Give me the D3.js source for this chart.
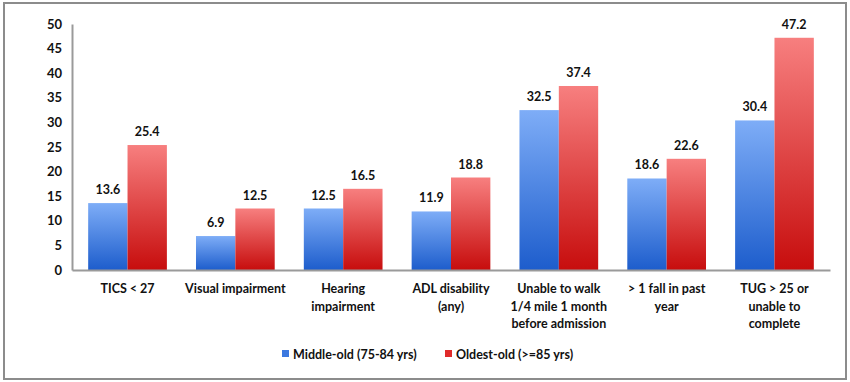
<!DOCTYPE html>
<html>
<head>
<meta charset="utf-8">
<script src="https://cdn.jsdelivr.net/npm/d3@7"></script>
<style>
  html, body { margin: 0; padding: 0; background: #fff; }
  svg { display: block; }
</style>
</head>
<body>
<svg id="chart" width="850" height="382"></svg>
<script>
const categories = [
  ["TICS < 27"],
  ["Visual impairment"],
  ["Hearing", "impairment"],
  ["ADL disability", "(any)"],
  ["Unable to walk", "1/4 mile 1 month", "before admission"],
  ["> 1 fall in past", "year"],
  ["TUG > 25 or", "unable to", "complete"]
];
const seriesNames = ["Middle-old (75-84 yrs)", "Oldest-old (>=85 yrs)"];
const middleOld = [13.6, 6.9, 12.5, 11.9, 32.5, 18.6, 30.4];
const oldestOld = [25.4, 12.5, 16.5, 18.8, 37.4, 22.6, 47.2];
const yTicks = [0, 5, 10, 15, 20, 25, 30, 35, 40, 45, 50];

const svg = d3.select("#chart");
const font = "Lato, 'Open Sans', sans-serif";

// outer frame
svg.append("rect").attr("x", 4).attr("y", 3).attr("width", 842).attr("height", 376)
  .attr("fill", "#fff").attr("stroke", "#8c8c8c").attr("stroke-width", 2);

const defs = svg.append("defs");
function grad(id, top, bottom) {
  const g = defs.append("linearGradient").attr("id", id)
    .attr("x1", 0).attr("y1", 0).attr("x2", 0).attr("y2", 1);
  g.append("stop").attr("offset", "0%").attr("stop-color", top);
  g.append("stop").attr("offset", "100%").attr("stop-color", bottom);
}
grad("gBlue", "#7eadf7", "#1d5dcc");
grad("gRed", "#f77f7f", "#c70d0d");
const fills = ["url(#gBlue)", "url(#gRed)"];
const solid = ["#3b78e0", "#e02a2a"];

const x0 = d3.scaleBand().domain(d3.range(categories.length))
  .range([72, 830]).paddingInner(0.27).paddingOuter(0.15);
const x1 = d3.scaleBand().domain([0, 1]).range([0, x0.bandwidth()]);
const y = d3.scaleLinear().domain([0, 50]).range([270, 24]);

// y axis
const yAxis = svg.append("g").attr("transform", "translate(72,0)")
  .call(d3.axisLeft(y).tickValues(yTicks).tickSize(0).tickPadding(10));
yAxis.select(".domain").attr("stroke", "#9a9a9a").attr("stroke-width", 2);
yAxis.selectAll("text").attr("font-family", font).attr("font-size", 13)
  .attr("font-weight", "bold").attr("fill", "#111");

const series = [middleOld, oldestOld];
const groups = svg.append("g");
categories.forEach((c, i) => {
  series.forEach((s, k) => {
    const bx = x0(i) + x1(k);
    groups.append("rect")
      .attr("x", bx).attr("y", y(s[i]))
      .attr("width", x1.bandwidth()).attr("height", y(0) - y(s[i]))
      .attr("fill", fills[k]);
    groups.append("text")
      .attr("x", bx + x1.bandwidth() / 2).attr("y", y(s[i]) - 9)
      .attr("text-anchor", "middle")
      .attr("font-family", font).attr("font-size", 12.5).attr("font-weight", "bold")
      .attr("fill", "#111").text(s[i].toFixed(1));
  });
});

// x axis
const xAxis = svg.append("g").attr("transform", "translate(0,270)")
  .call(d3.axisBottom(x0).tickSize(0).tickFormat(""));
xAxis.select(".domain").attr("stroke", "#9a9a9a").attr("stroke-width", 2);

categories.forEach((lines, i) => {
  const t = svg.append("text")
    .attr("x", x0(i) + x0.bandwidth() / 2).attr("y", 293)
    .attr("text-anchor", "middle")
    .attr("font-family", font).attr("font-size", 12.5).attr("font-weight", "bold")
    .attr("fill", "#111");
  lines.forEach((l, j) => {
    t.append("tspan").attr("x", x0(i) + x0.bandwidth() / 2)
      .attr("dy", j === 0 ? 0 : 17.5).text(l);
  });
});

// legend
const legendX = [282, 445];
seriesNames.forEach((n, k) => {
  svg.append("rect").attr("x", legendX[k]).attr("y", 350)
    .attr("width", 7).attr("height", 7).attr("fill", solid[k]);
  svg.append("text").attr("x", legendX[k] + 11).attr("y", 359)
    .attr("font-family", font).attr("font-size", 12.5).attr("font-weight", "bold")
    .attr("fill", "#111").text(n);
});
</script>
</body>
</html>
